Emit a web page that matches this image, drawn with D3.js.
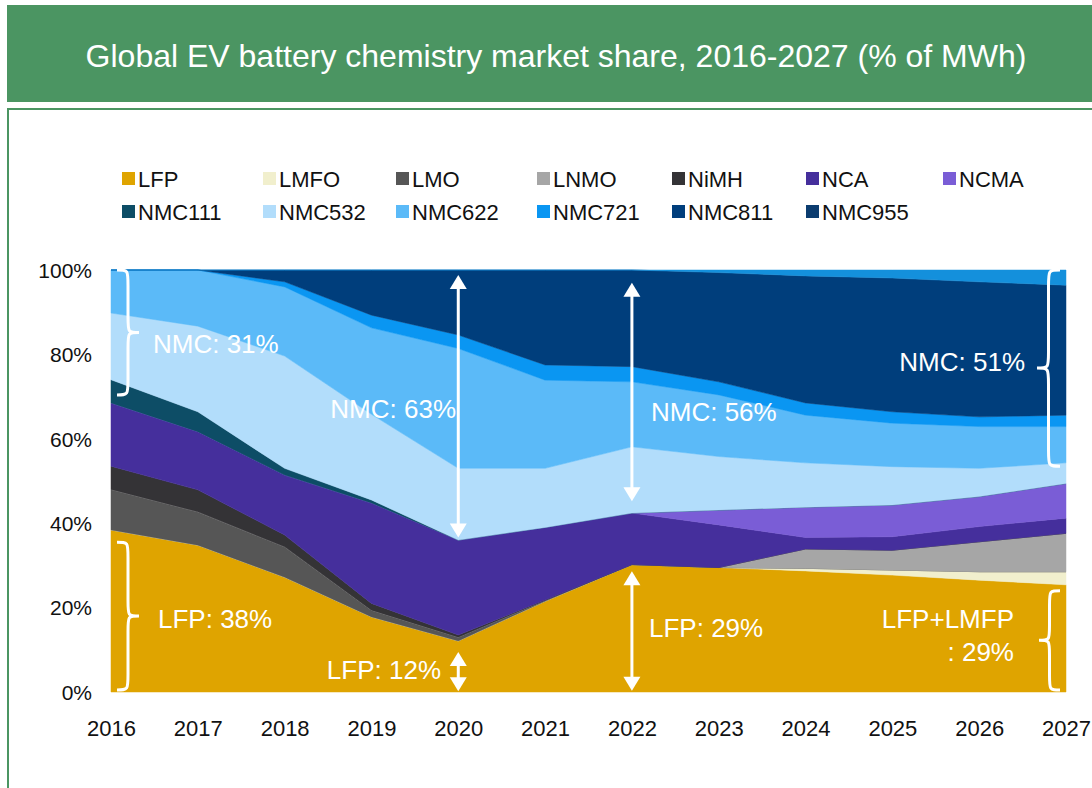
<!DOCTYPE html>
<html>
<head>
<meta charset="utf-8">
<script src="https://cdn.jsdelivr.net/npm/d3@7"></script>
<style>
  body { margin: 0; background: #fff; }
  svg { display: block; font-family: "Liberation Sans", Arial, sans-serif; }
</style>
</head>
<body>
<div class="chart"></div>
<script>
// data (% of MWh)
const years = [2016, 2017, 2018, 2019, 2020, 2021, 2022, 2023, 2024, 2025, 2026, 2027];
const LFP    = [38.4, 34.8, 27.2, 17.8, 12.1, 21.5, 30.2, 29.5, 28.7, 27.7, 26.5, 25.4];
const LMFO   = [0, 0, 0, 0, 0, 0, 0, 0, 0.6, 1.2, 2.0, 3.1];
const LMO    = [9.6, 7.9, 7.2, 1.6, 0.9, 0.2, 0, 0, 0, 0, 0, 0];
const LNMO   = [0, 0, 0, 0, 0, 0, 0, 0, 4.6, 4.7, 7.1, 9.1];
const NiMH   = [5.5, 5.2, 2.8, 1.6, 0.5, 0.1, 0, 0, 0, 0, 0, 0];
const NCA    = [15, 13.8, 14.2, 23.8, 22.5, 17.2, 12.2, 10.1, 2.7, 3.2, 3.6, 3.6];
const NCMA   = [0, 0, 0, 0, 0, 0, 0, 3.5, 7.2, 7.5, 7.1, 8.2];
const NMC111 = [5.5, 4.7, 1.6, 0.7, 0, 0, 0, 0, 0, 0, 0, 0];
const NMC532 = [15.8, 20.3, 26.6, 20.3, 17, 14, 15.7, 12.7, 10.5, 9.1, 6.7, 4.9];
const NMC622 = [10.2, 13.3, 16.4, 20.5, 28.4, 20.9, 15.4, 14.6, 11.3, 10.3, 9.9, 8.6];
const NMC721 = [0, 0, 1.2, 3, 3.2, 3.6, 3.6, 3.1, 2.9, 2.7, 2.3, 2.7];
const NMC811 = [0, 0, 2.8, 10.7, 15.4, 22.5, 22.9, 25.9, 30.1, 31.7, 32, 30.8];
const NMC955 = [0, 0, 0, 0, 0, 0, 0, 0.6, 1.4, 1.9, 2.8, 3.6];

const yTicks = [0, 20, 40, 60, 80, 100];

const series = [
  { name: "LFP", values: LFP, color: "#dfa400" },
  { name: "LMFO", values: LMFO, color: "#f1efcd" },
  { name: "LMO", values: LMO, color: "#565656" },
  { name: "LNMO", values: LNMO, color: "#a6a6a6" },
  { name: "NiMH", values: NiMH, color: "#343336" },
  { name: "NCA", values: NCA, color: "#452f9c" },
  { name: "NCMA", values: NCMA, color: "#7a5dd6" },
  { name: "NMC111", values: NMC111, color: "#0d4d66" },
  { name: "NMC532", values: NMC532, color: "#b2ddfb" },
  { name: "NMC622", values: NMC622, color: "#5bbaf8" },
  { name: "NMC721", values: NMC721, color: "#0a96f2" },
  { name: "NMC811", values: NMC811, color: "#003e7c" },
  { name: "NMC955", values: NMC955, color: "#1490dc", swatch: "#0b3c6f" }
];

const legendRows = [
  ["LFP", "LMFO", "LMO", "LNMO", "NiMH", "NCA", "NCMA"],
  ["NMC111", "NMC532", "NMC622", "NMC721", "NMC811", "NMC955"]
];

const W = 1092, H = 788;
const svg = d3.select(".chart").append("svg").attr("width", W).attr("height", H);

// header band
const green = "#4b9562";
svg.append("rect").attr("x", 7).attr("y", 5).attr("width", W - 7).attr("height", 97).attr("fill", green);
svg.append("text")
  .text("Global EV battery chemistry market share, 2016-2027 (% of MWh)")
  .attr("x", 556).attr("y", 67)
  .attr("text-anchor", "middle")
  .style("fill", "white")
  .style("font-size", "32px");

// frame
svg.append("rect").attr("x", 8).attr("y", 109).attr("width", W + 20).attr("height", H)
  .attr("fill", "none").attr("stroke", green).attr("stroke-width", 2);

const x = d3.scaleLinear().domain([2016, 2027]).range([111, 1066]);
const y = d3.scaleLinear().domain([0, 100]).range([692, 270]);

const table = years.map((yr, i) => {
  const row = { year: yr };
  series.forEach(s => (row[s.name] = s.values[i]));
  return row;
});
const stack = d3.stack().keys(series.map(s => s.name))(table);
const area = d3.area()
  .x(d => x(d.data.year))
  .y0(d => y(d[0]))
  .y1(d => y(d[1]));

svg.append("g").selectAll("path")
  .data(stack)
  .join("path")
  .attr("d", area)
  .attr("fill", (d, i) => series[i].color)
  .attr("stroke", (d, i) => series[i].color)
  .attr("stroke-width", 0.5);

// axes
const yAxis = svg.append("g").attr("transform", "translate(92,0)")
  .call(d3.axisLeft(y).tickValues(yTicks).tickFormat(d => d + "%").tickSize(0).tickPadding(0));
yAxis.select(".domain").remove();
yAxis.selectAll("text").style("font-size", "21px").style("fill", "#111").attr("dy", "0.35em")
  .style("font-family", "Liberation Sans, Arial, sans-serif");

const xAxis = svg.append("g").attr("transform", "translate(0,718)")
  .call(d3.axisBottom(x).tickValues(years).tickFormat(d3.format("d")).tickSize(0).tickPadding(0));
xAxis.select(".domain").remove();
xAxis.selectAll("text").style("font-size", "22px").style("fill", "#111").attr("dy", "0.8em")
  .style("font-family", "Liberation Sans, Arial, sans-serif");

// legend
const colX = [122, 263, 396, 537, 672, 806, 943];
const rowY = [179, 212];
legendRows.forEach((row, r) => {
  row.forEach((name, c) => {
    const s = series.find(d => d.name === name);
    const g = svg.append("g").attr("transform", `translate(${colX[c]},${rowY[r]})`);
    g.append("rect").attr("x", 0).attr("y", -7).attr("width", 13).attr("height", 13)
      .attr("fill", s.swatch || s.color);
    g.append("text").text(name).attr("x", 16).attr("y", 0).attr("dy", "0.36em")
      .style("font-size", "22px").style("fill", "#111");
  });
});

// annotations
const ann = svg.append("g");
function brace(x0, y1, y2, w) {
  const m = (y1 + y2) / 2, h = w * 0.5, q = Math.abs(w) * 0.7;
  return `M${x0},${y1} C${x0 + h},${y1} ${x0 + h},${y1} ${x0 + h},${y1 + q}` +
    ` L${x0 + h},${m - q} C${x0 + h},${m} ${x0 + h},${m} ${x0 + w},${m}` +
    ` C${x0 + h},${m} ${x0 + h},${m} ${x0 + h},${m + q}` +
    ` L${x0 + h},${y2 - q} C${x0 + h},${y2} ${x0 + h},${y2} ${x0},${y2}`;
}
function braceAt(x0, v1, v2, w) {
  ann.append("path").attr("d", brace(x0, y(v1), y(v2), w))
    .attr("fill", "none").attr("stroke", "white").attr("stroke-width", 3);
}
function arrow(xv, v1, v2) {
  const xa = x(xv), ya = y(v1), yb = y(v2), hw = 8.5, hh = 14;
  ann.append("line").attr("x1", xa).attr("x2", xa).attr("y1", ya + hh - 2).attr("y2", yb - hh + 2)
    .attr("stroke", "white").attr("stroke-width", 3);
  ann.append("path").attr("d", `M${xa},${ya} L${xa - hw},${ya + hh} L${xa + hw},${ya + hh}Z`).attr("fill", "white");
  ann.append("path").attr("d", `M${xa},${yb} L${xa - hw},${yb - hh} L${xa + hw},${yb - hh}Z`).attr("fill", "white");
}
function label(txt, xp, yp, anchor) {
  ann.append("text").text(txt).attr("x", xp).attr("y", yp).attr("text-anchor", anchor || "start")
    .style("fill", "white").style("font-size", "26px");
}

braceAt(117, 100, 70.4, 22);
label("NMC: 31%", 153, 353);
braceAt(117, 35.5, 0.5, 22);
label("LFP: 38%", 158, 628);

arrow(2020, 98.8, 36.6);
label("NMC: 63%", 456, 418, "end");
arrow(2020, 9.5, 0.2);
label("LFP: 12%", 441, 679, "end");

arrow(2022, 97, 45.2);
label("NMC: 56%", 651, 421);
arrow(2022, 28.6, 0.3);
label("LFP: 29%", 649, 637);

braceAt(1060, 100, 53.5, -23);
label("NMC: 51%", 1025, 371, "end");
braceAt(1060, 24, 0.5, -21);
label("LFP+LMFP", 1014, 628, "end");
label(": 29%", 1014, 661, "end");
</script>
</body>
</html>
